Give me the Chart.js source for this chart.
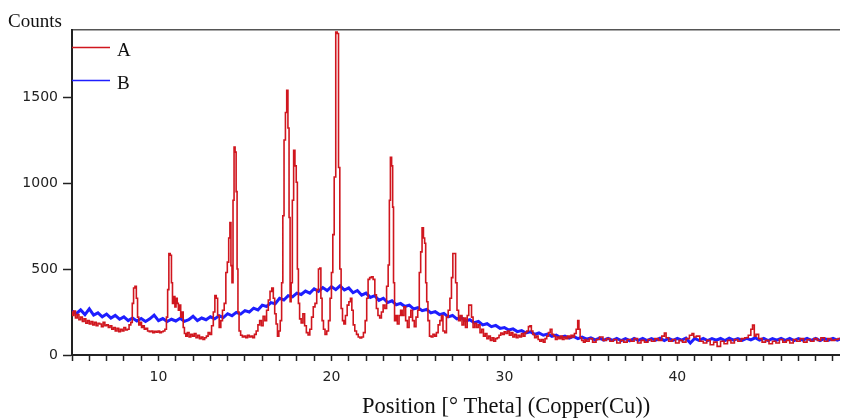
<!DOCTYPE html>
<html>
<head>
<meta charset="utf-8">
<script src="https://cdn.jsdelivr.net/npm/chart.js@4.4.1/dist/chart.umd.min.js"></script>
<style>
  html, body { margin: 0; padding: 0; background: #fff; }
  #wrap { width: 841px; height: 418px; }
</style>
</head>
<body>
<div id="wrap"><canvas id="xrdChart" width="841" height="418"></canvas></div>
<script>
// axis texts
const yTitle = 'Counts';
const xTitle = 'Position [\u00B0 Theta] (Copper(Cu))';
const xTickLabels = [10, 20, 30, 40];
const yTickLabels = [0, 500, 1000, 1500];
const seriesNames = ['A', 'B'];

// sample A: [2theta, counts]
const scanA = [
  [5.00,250],[5.05,230],[5.15,255],[5.25,215],[5.35,235],[5.45,205],[5.55,220],[5.65,195],[5.75,210],[5.85,185],
  [5.95,200],[6.05,180],[6.15,195],[6.25,175],[6.35,190],[6.45,170],[6.55,185],[6.65,180],[6.75,165],[6.85,190],
  [6.95,170],[7.05,175],[7.15,160],[7.25,170],[7.35,150],[7.45,160],[7.55,140],[7.65,155],[7.75,135],[7.85,150],
  [7.95,140],[8.05,160],[8.15,145],[8.25,150],[8.35,175],[8.45,190],[8.52,300],[8.60,390],[8.68,400],[8.76,330],
  [8.82,220],[8.90,175],[8.98,190],[9.06,160],[9.14,170],[9.22,150],[9.32,155],[9.42,140],[9.52,135],[9.62,140],
  [9.72,130],[9.82,138],[9.92,132],[10.02,140],[10.12,130],[10.22,135],[10.32,140],[10.42,150],[10.50,220],[10.56,380],
  [10.64,590],[10.72,580],[10.78,420],[10.84,300],[10.92,340],[10.98,280],[11.05,330],[11.12,300],[11.18,260],[11.25,290],
  [11.32,220],[11.40,250],[11.46,160],[11.54,125],[11.62,110],[11.72,130],[11.82,105],[11.92,120],[12.02,110],[12.12,125],
  [12.22,100],[12.32,115],[12.42,95],[12.52,105],[12.62,90],[12.72,100],[12.82,110],[12.92,130],[13.02,120],[13.12,170],
  [13.22,250],[13.30,345],[13.38,330],[13.46,230],[13.56,160],[13.65,200],[13.75,260],[13.85,300],[13.94,480],[14.02,540],
  [14.10,680],[14.16,770],[14.22,520],[14.28,420],[14.34,900],[14.40,1210],[14.46,1180],[14.52,950],[14.57,500],[14.62,250],
  [14.70,140],[14.80,115],[14.90,105],[15.00,110],[15.10,100],[15.20,115],[15.30,105],[15.40,110],[15.50,100],[15.60,120],
  [15.70,140],[15.80,175],[15.90,200],[16.00,170],[16.10,225],[16.20,200],[16.30,260],[16.40,320],[16.50,370],[16.60,390],
  [16.68,330],[16.76,240],[16.84,180],[16.92,110],[17.00,140],[17.08,200],[17.16,420],[17.22,810],[17.30,1250],[17.38,1410],
  [17.45,1540],[17.52,1320],[17.58,800],[17.64,310],[17.70,420],[17.78,900],[17.85,1190],[17.93,1100],[18.00,1005],[18.06,500],
  [18.12,300],[18.20,210],[18.30,186],[18.40,240],[18.50,170],[18.60,130],[18.70,116],[18.80,150],[18.90,220],[19.00,280],
  [19.10,300],[19.20,380],[19.30,500],[19.36,506],[19.42,330],[19.50,200],[19.58,150],[19.68,120],[19.78,140],[19.88,200],
  [19.96,330],[20.04,480],[20.12,700],[20.20,1035],[20.30,1878],[20.37,1870],[20.45,1090],[20.52,500],[20.60,270],[20.68,200],
  [20.76,180],[20.86,230],[20.96,290],[21.06,310],[21.14,330],[21.22,260],[21.30,175],[21.40,140],[21.50,120],[21.60,105],
  [21.70,99],[21.80,105],[21.90,130],[22.00,200],[22.08,330],[22.16,440],[22.26,450],[22.36,455],[22.46,440],[22.56,350],
  [22.64,270],[22.74,230],[22.84,215],[22.94,250],[23.04,290],[23.14,270],[23.24,400],[23.32,523],[23.38,900],[23.44,1150],
  [23.52,1100],[23.56,860],[23.62,420],[23.68,200],[23.76,230],[23.86,180],[23.96,230],[24.04,260],[24.14,230],[24.24,280],
  [24.34,200],[24.44,160],[24.54,220],[24.64,260],[24.74,200],[24.84,165],[24.94,220],[25.04,260],[25.12,480],[25.20,600],
  [25.28,740],[25.36,680],[25.42,650],[25.48,420],[25.54,310],[25.62,200],[25.72,110],[25.82,105],[25.92,120],[26.02,110],
  [26.12,130],[26.22,175],[26.32,200],[26.40,230],[26.50,140],[26.60,130],[26.70,220],[26.80,260],[26.90,330],[26.98,450],
  [27.06,590],[27.14,590],[27.22,420],[27.30,260],[27.40,200],[27.50,230],[27.60,175],[27.70,215],[27.80,160],[27.90,230],
  [27.98,290],[28.06,290],[28.14,220],[28.24,160],[28.34,185],[28.44,160],[28.54,175],[28.64,130],[28.74,150],[28.84,110],
  [28.94,125],[29.04,95],[29.14,110],[29.24,85],[29.34,100],[29.44,80],[29.54,95],[29.64,100],[29.74,115],[29.84,128],
  [29.94,120],[30.04,135],[30.14,125],[30.24,140],[30.34,115],[30.44,130],[30.54,105],[30.64,120],[30.74,100],[30.84,115],
  [30.94,105],[31.04,125],[31.14,110],[31.24,130],[31.34,140],[31.44,165],[31.52,170],[31.60,140],[31.70,120],[31.80,100],
  [31.90,110],[32.00,90],[32.10,80],[32.20,90],[32.30,75],[32.40,95],[32.50,110],[32.60,130],[32.70,150],[32.80,120],
  [32.90,110],[33.00,90],[33.10,105],[33.20,95],[33.30,110],[33.40,90],[33.50,105],[33.60,95],[33.70,110],[33.80,100],
  [33.90,115],[34.00,105],[34.10,125],[34.20,150],[34.28,200],[34.34,150],[34.42,100],[34.52,85],[34.62,75],[34.72,90],
  [34.80,80],[35.00,95],[35.20,75],[35.40,90],[35.60,105],[35.80,85],[36.00,95],[36.20,80],[36.40,90],[36.60,70],
  [36.80,85],[37.00,75],[37.20,90],[37.40,80],[37.60,95],[37.80,70],[38.00,85],[38.20,75],[38.40,90],[38.60,80],
  [38.80,95],[39.00,85],[39.20,110],[39.30,128],[39.40,100],[39.60,80],[39.80,90],[40.00,70],[40.20,85],[40.40,75],
  [40.60,95],[40.80,115],[40.90,125],[41.00,105],[41.20,110],[41.40,80],[41.60,70],[41.80,85],[42.00,60],[42.20,75],
  [42.40,50],[42.60,80],[42.80,65],[43.00,85],[43.20,70],[43.40,90],[43.60,80],[43.80,95],[44.00,100],[44.20,115],
  [44.30,150],[44.40,174],[44.50,110],[44.60,120],[44.80,95],[45.00,75],[45.20,85],[45.40,65],[45.60,80],[45.80,70],
  [46.00,90],[46.20,75],[46.40,85],[46.60,70],[46.80,90],[47.00,80],[47.20,95],[47.40,75],[47.60,90],[47.80,80],
  [48.00,95],[48.20,85],[48.40,100],[48.60,80],[48.80,95],[49.00,85],[49.20,90],[49.40,95]
];

// sample B: broad amorphous hump, [2theta, counts]
const scanB = [
  [5.00,255],[5.25,240],[5.50,262],[5.75,235],[6.00,268],[6.25,232],[6.50,245],[6.75,222],[7.00,238],[7.25,215],
  [7.50,230],[7.75,208],[8.00,222],[8.25,200],[8.50,215],[8.75,198],[9.00,212],[9.25,195],[9.50,210],[9.75,232],
  [10.00,200],[10.25,212],[10.50,195],[10.75,208],[11.00,198],[11.25,214],[11.50,196],[11.75,205],[12.00,225],[12.25,200],
  [12.50,215],[12.75,205],[13.00,222],[13.25,210],[13.50,228],[13.75,218],[14.00,240],[14.25,228],[14.50,248],[14.75,238],
  [15.00,258],[15.25,250],[15.50,272],[15.75,262],[16.00,290],[16.25,282],[16.50,305],[16.75,298],[17.00,330],[17.25,320],
  [17.50,345],[17.75,338],[18.00,360],[18.25,352],[18.50,372],[18.75,360],[19.00,385],[19.25,370],[19.50,392],[19.75,375],
  [20.00,398],[20.25,380],[20.50,402],[20.75,378],[21.00,390],[21.25,362],[21.50,375],[21.75,348],[22.00,360],[22.25,335],
  [22.50,345],[22.75,318],[23.00,330],[23.25,305],[23.50,315],[23.75,292],[24.00,300],[24.25,282],[24.50,290],[24.75,268],
  [25.00,275],[25.25,258],[25.50,265],[25.75,245],[26.00,252],[26.25,235],[26.50,242],[26.75,222],[27.00,230],[27.25,210],
  [27.50,218],[27.75,198],[28.00,205],[28.25,188],[28.50,195],[28.75,175],[29.00,182],[29.25,165],[29.50,172],[29.75,155],
  [30.00,160],[30.25,145],[30.50,152],[30.75,136],[31.00,142],[31.25,128],[31.50,135],[31.75,120],[32.00,128],[32.25,115],
  [32.50,122],[32.75,108],[33.00,116],[33.25,102],[33.50,110],[33.75,98],[34.00,108],[34.25,95],[34.50,104],[34.75,92],
  [35.00,100],[35.25,88],[35.50,98],[35.75,86],[36.00,97],[36.25,85],[36.50,96],[36.75,84],[37.00,95],[37.25,83],
  [37.50,96],[37.75,85],[38.00,97],[38.25,84],[38.50,95],[38.75,86],[39.00,98],[39.25,84],[39.50,96],[39.75,85],
  [40.00,97],[40.25,86],[40.50,98],[40.75,70],[41.00,96],[41.25,85],[41.50,97],[41.75,84],[42.00,95],[42.25,86],
  [42.50,96],[42.75,84],[43.00,98],[43.25,86],[43.50,95],[43.75,85],[44.00,97],[44.25,88],[44.50,100],[44.75,86],
  [45.00,96],[45.25,84],[45.50,95],[45.75,86],[46.00,97],[46.25,85],[46.50,96],[46.75,84],[47.00,95],[47.25,86],
  [47.50,97],[47.75,85],[48.00,96],[48.25,84],[48.50,95],[48.75,87],[49.00,97],[49.25,86],[49.50,96]
];

const colorA = '#d0161e';
const colorB = '#1e1eff';
const inkColor = '#222';

// draws the "Counts" label, the in-plot legend and the x title
const annotateText = {
    id: 'annotateText',
    afterDraw(chart) {
        const { ctx, chartArea } = chart;
        ctx.save();
        ctx.fillStyle = '#111';
        ctx.textBaseline = 'alphabetic';
        ctx.textAlign = 'left';
        ctx.font = '19px "Liberation Serif", serif';
        ctx.fillText(yTitle, 8, 27);

        chart.data.datasets.forEach((ds, i) => {
            const y = chartArea.top + 17.5 + i * 33;
            ctx.strokeStyle = ds.borderColor;
            ctx.lineWidth = 1.5;
            ctx.beginPath();
            ctx.moveTo(chartArea.left, y);
            ctx.lineTo(chartArea.left + 38, y);
            ctx.stroke();
            ctx.fillText(ds.label, chartArea.left + 45, y + 8.5);
        });

        ctx.font = '22.5px "Liberation Serif", serif';
        ctx.fillText(xTitle, 362, 413);
        ctx.restore();
    }
};

const tickFont = { family: '"DejaVu Sans", sans-serif', size: 14 };

const ctx = document.getElementById('xrdChart').getContext('2d');
new Chart(ctx, {
    type: 'line',
    data: {
        datasets: [
            {
                label: seriesNames[0],
                data: scanA.map(p => ({ x: p[0], y: p[1] })),
                borderColor: colorA,
                borderWidth: 1.6,
                pointRadius: 0,
                stepped: 'middle',
                fill: false
            },
            {
                label: seriesNames[1],
                data: scanB.map(p => ({ x: p[0], y: p[1] })),
                borderColor: colorB,
                borderWidth: 3,
                pointRadius: 0,
                fill: false
            }
        ]
    },
    options: {
        responsive: false,
        animation: false,
        layout: { padding: { top: 30, right: 0, bottom: 0, left: 0 } },
        plugins: {
            legend: { display: false },
            tooltip: { enabled: false }
        },
        scales: {
            x: {
                type: 'linear',
                min: 5,
                max: 49.4,
                afterBuildTicks: scale => {
                    const ticks = [];
                    for (let v = 5; v <= 49; v++) ticks.push({ value: v });
                    scale.ticks = ticks;
                },
                afterFit: scale => { scale.height = 63; },
                grid: { drawOnChartArea: false, tickLength: 6, color: inkColor, tickWidth: 1.5 },
                border: { color: inkColor, width: 2 },
                ticks: {
                    autoSkip: false,
                    maxRotation: 0,
                    padding: 8,
                    color: inkColor,
                    font: tickFont,
                    callback: v => xTickLabels.includes(v) ? String(v) : ''
                }
            },
            xTop: {
                type: 'linear',
                position: 'top',
                min: 5,
                max: 49.4,
                grid: { display: false, drawTicks: false },
                ticks: { display: false },
                border: { color: '#555', width: 1.5 },
                afterFit: scale => { scale.height = 0; }
            },
            y: {
                min: 0,
                max: 1890,
                afterBuildTicks: scale => {
                    scale.ticks = yTickLabels.map(v => ({ value: v }));
                },
                afterFit: scale => { scale.width = 72; },
                grid: { drawOnChartArea: false, tickLength: 9, color: inkColor, tickWidth: 1.5 },
                border: { color: inkColor, width: 2 },
                ticks: { padding: 5, color: inkColor, font: tickFont, callback: v => String(v) }
            }
        }
    },
    plugins: [annotateText]
});
</script>
</body>
</html>
